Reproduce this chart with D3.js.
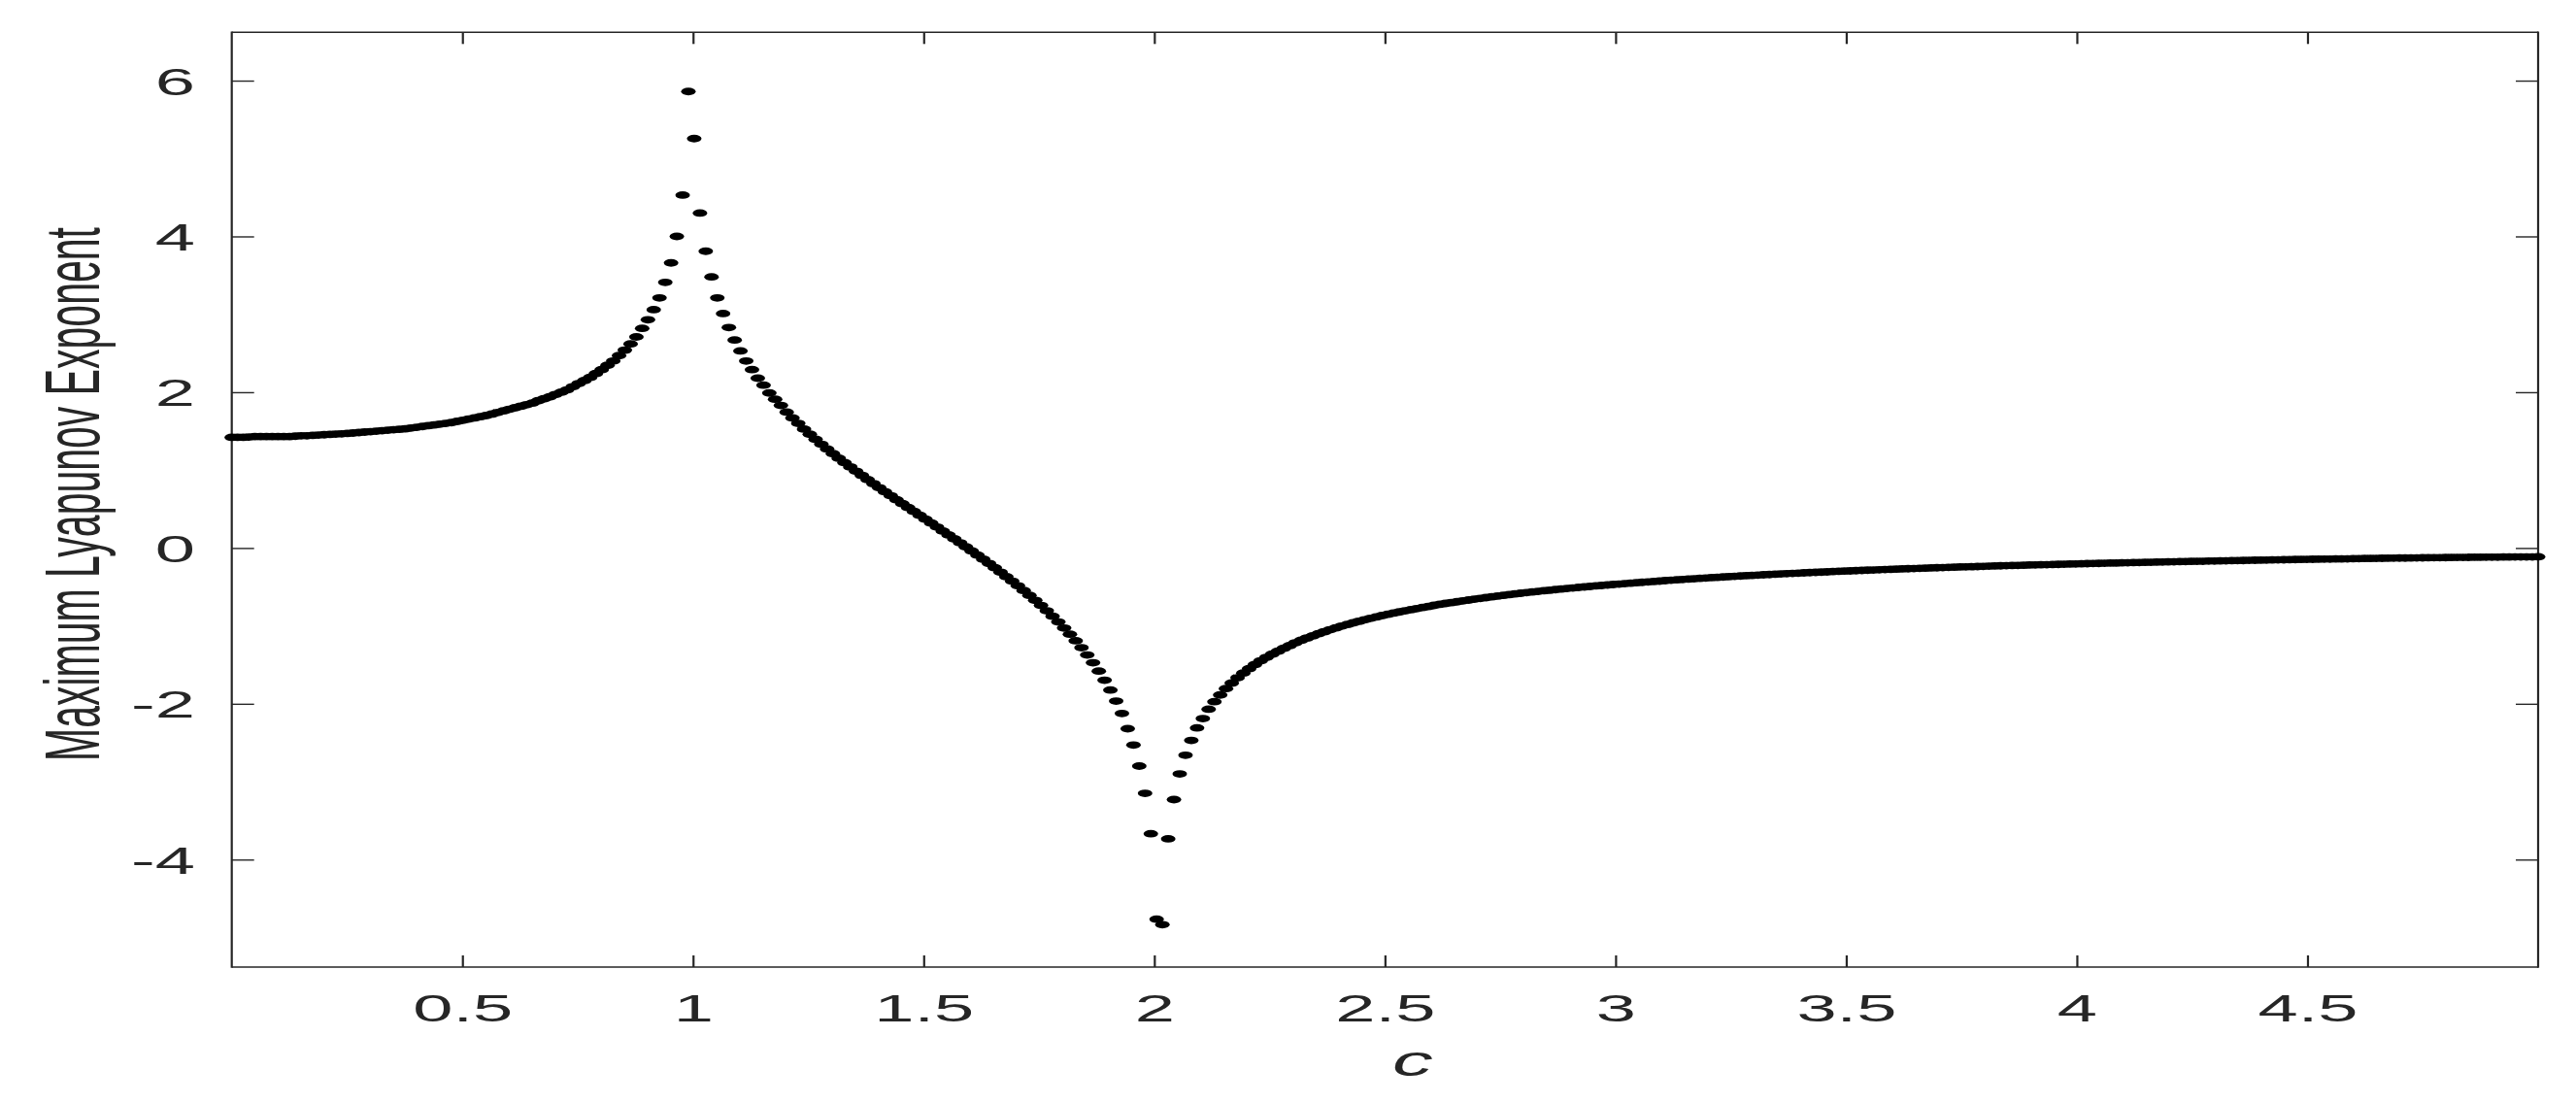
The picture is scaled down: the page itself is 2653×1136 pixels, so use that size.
<!DOCTYPE html>
<html><head><meta charset="utf-8">
<script src="https://cdn.jsdelivr.net/npm/d3@7"></script>
<style>html,body{margin:0;padding:0;background:#fff;} svg{display:block;}</style>
</head><body>
<svg id="chart" width="2653" height="1136"></svg>
<script>
// parameter grid: c = linspace(0, 5, 400)
const cStart = 0, cEnd = 5, nPoints = 400;
// maximum Lyapunov exponent, one value per c
const lyapunov = [
1.42,1.42,1.42,1.425,1.43,1.43,1.43,1.43,1.43,1.43,
1.43,1.435,1.44,1.44,1.445,1.45,1.454,1.458,1.462,1.466,
1.47,1.476,1.482,1.488,1.494,1.5,1.506,1.512,1.518,1.524,
1.53,1.54,1.55,1.56,1.57,1.58,1.59,1.6,1.61,1.625,
1.64,1.655,1.67,1.685,1.7,1.72,1.74,1.76,1.78,1.8,
1.82,1.84,1.86,1.89,1.915,1.94,1.97,2,2.03,2.07,
2.11,2.15,2.19,2.24,2.29,2.345,2.4,2.47,2.54,2.62,
2.71,2.82,2.93,3.06,3.21,3.41,3.66,4,4.53,5.86,
5.256,4.3,3.81,3.48,3.21,3.01,2.83,2.67,2.53,2.4,
2.29,2.18,2.09,1.99,1.91,1.83,1.745,1.67,1.6,1.526,
1.46,1.395,1.332,1.271,1.211,1.153,1.096,1.041,0.986,0.932,
0.878,0.826,0.774,0.722,0.671,0.62,0.57,0.52,0.47,0.42,
0.37,0.32,0.269,0.218,0.168,0.117,0.066,0.014,-0.038,-0.091,
-0.145,-0.199,-0.254,-0.311,-0.368,-0.426,-0.485,-0.546,-0.608,-0.672,
-0.738,-0.806,-0.876,-0.95,-1.027,-1.107,-1.191,-1.28,-1.373,-1.473,
-1.58,-1.697,-1.824,-1.965,-2.124,-2.32,-2.53,-2.8,-3.15,-3.668,
-4.765,-4.835,-3.734,-3.23,-2.9,-2.66,-2.47,-2.31,-2.19,-2.07,
-1.973,-1.887,-1.805,-1.733,-1.666,-1.605,-1.549,-1.497,-1.448,-1.404,
-1.363,-1.325,-1.288,-1.253,-1.218,-1.185,-1.156,-1.128,-1.101,-1.075,
-1.049,-1.026,-1.003,-0.982,-0.961,-0.941,-0.922,-0.903,-0.885,-0.868,
-0.851,-0.836,-0.821,-0.806,-0.792,-0.778,-0.764,-0.751,-0.737,-0.724,
-0.712,-0.701,-0.69,-0.679,-0.668,-0.657,-0.647,-0.637,-0.627,-0.617,
-0.608,-0.599,-0.59,-0.581,-0.573,-0.565,-0.557,-0.549,-0.542,-0.534,
-0.527,-0.52,-0.513,-0.506,-0.5,-0.494,-0.487,-0.481,-0.475,-0.469,
-0.463,-0.457,-0.452,-0.446,-0.441,-0.435,-0.43,-0.425,-0.419,-0.414,
-0.409,-0.404,-0.399,-0.395,-0.39,-0.386,-0.381,-0.377,-0.372,-0.368,
-0.364,-0.36,-0.356,-0.352,-0.348,-0.344,-0.341,-0.337,-0.333,-0.33,
-0.326,-0.323,-0.319,-0.316,-0.313,-0.31,-0.307,-0.303,-0.3,-0.297,
-0.294,-0.291,-0.288,-0.285,-0.283,-0.28,-0.277,-0.274,-0.271,-0.269,
-0.266,-0.264,-0.261,-0.259,-0.256,-0.254,-0.251,-0.249,-0.247,-0.244,
-0.242,-0.24,-0.238,-0.236,-0.233,-0.231,-0.229,-0.227,-0.225,-0.223,
-0.221,-0.219,-0.217,-0.215,-0.214,-0.212,-0.21,-0.208,-0.206,-0.205,
-0.203,-0.201,-0.199,-0.198,-0.196,-0.194,-0.193,-0.191,-0.189,-0.188,
-0.186,-0.184,-0.183,-0.181,-0.18,-0.178,-0.177,-0.175,-0.174,-0.172,
-0.171,-0.17,-0.168,-0.167,-0.165,-0.164,-0.163,-0.161,-0.16,-0.158,
-0.157,-0.156,-0.155,-0.153,-0.152,-0.151,-0.15,-0.148,-0.147,-0.146,
-0.145,-0.144,-0.143,-0.142,-0.141,-0.14,-0.139,-0.137,-0.136,-0.135,
-0.134,-0.133,-0.132,-0.131,-0.13,-0.129,-0.129,-0.128,-0.127,-0.126,
-0.125,-0.124,-0.124,-0.123,-0.122,-0.121,-0.121,-0.12,-0.119,-0.119,
-0.118,-0.117,-0.117,-0.116,-0.116,-0.115,-0.115,-0.114,-0.114,-0.113
];
const xTicks = [0.5, 1, 1.5, 2, 2.5, 3, 3.5, 4, 4.5];
const xTickLabels = ["0.5", "1", "1.5", "2", "2.5", "3", "3.5", "4", "4.5"];
const yTicks = [-4, -2, 0, 2, 4, 6];
const yTickLabels = ["-4", "-2", "0", "2", "4", "6"];
const xDomain = [0, 5];
const yDomain = [-5.38, 6.62];
const xLabel = "c";
const yLabel = "Maximum Lyapunov Exponent";

const cValues = d3.range(nPoints).map(i => cStart + (cEnd - cStart) * i / (nPoints - 1));

const AX = "#262626";
const SX = 1.9; // horizontal stretch of the original figure
const plot = {left: 238.7, right: 2614, top: 33.3, bottom: 996};
const svg = d3.select("#chart");
svg.append("rect").attr("width", 2653).attr("height", 1136).attr("fill", "#fff");

const x = d3.scaleLinear().domain(xDomain).range([plot.left, plot.right]);
const y = d3.scaleLinear().domain(yDomain).range([plot.bottom, plot.top]);

// axes
const font = "'Liberation Sans', Arial, Helvetica, sans-serif";
function styleAxis(g) {
  g.select(".domain").remove();
  g.selectAll(".tick line").attr("stroke", AX);
}
const gB = svg.append("g").attr("transform", `translate(0,${plot.bottom})`)
  .call(d3.axisBottom(x).tickValues(xTicks).tickSizeInner(-12).tickSizeOuter(0)
    .tickFormat((d, i) => xTickLabels[i]));
styleAxis(gB);
gB.selectAll(".tick line").attr("stroke-width", 2.2);
gB.selectAll(".tick text").attr("y", null).attr("dy", null)
  .attr("transform", `translate(0,56) scale(${SX},1)`)
  .attr("fill", AX).attr("font-family", font).attr("font-size", 39).attr("text-anchor", "middle");

const gT = svg.append("g").attr("transform", `translate(0,${plot.top})`)
  .call(d3.axisTop(x).tickValues(xTicks).tickSizeInner(-12).tickSizeOuter(0).tickFormat(""));
styleAxis(gT);
gT.selectAll(".tick line").attr("stroke-width", 2.2);

const gL = svg.append("g").attr("transform", `translate(${plot.left},0)`)
  .call(d3.axisLeft(y).tickValues(yTicks).tickSizeInner(-23).tickSizeOuter(0)
    .tickFormat((d, i) => yTickLabels[i]));
styleAxis(gL);
gL.selectAll(".tick line").attr("stroke-width", 1.4);
gL.selectAll(".tick text").attr("x", null).attr("dy", null)
  .attr("transform", `translate(${201 - plot.left},14) scale(${SX},1)`)
  .attr("fill", AX).attr("font-family", font).attr("font-size", 39).attr("text-anchor", "end");

const gR = svg.append("g").attr("transform", `translate(${plot.right},0)`)
  .call(d3.axisRight(y).tickValues(yTicks).tickSizeInner(-23).tickSizeOuter(0).tickFormat(""));
styleAxis(gR);
gR.selectAll(".tick line").attr("stroke-width", 1.4);

// box
const box = svg.append("g").attr("stroke", AX).attr("fill", "none");
box.append("line").attr("x1", plot.left).attr("x2", plot.right).attr("y1", plot.top).attr("y2", plot.top).attr("stroke-width", 1.4);
box.append("line").attr("x1", plot.left).attr("x2", plot.right).attr("y1", plot.bottom).attr("y2", plot.bottom).attr("stroke-width", 1.4);
box.append("line").attr("x1", plot.left).attr("x2", plot.left).attr("y1", plot.top - 0.7).attr("y2", plot.bottom + 0.7).attr("stroke-width", 2.2);
box.append("line").attr("x1", plot.right).attr("x2", plot.right).attr("y1", plot.top - 0.7).attr("y2", plot.bottom + 0.7).attr("stroke-width", 2.2);

// points
svg.append("g").selectAll("ellipse").data(lyapunov).join("ellipse")
  .attr("cx", (d, i) => x(cValues[i]))
  .attr("cy", d => y(d))
  .attr("rx", 7.5).attr("ry", 3.9)
  .attr("fill", "#000");

// labels
svg.append("text").attr("transform", `translate(1455,1108) scale(${SX},1)`)
  .attr("text-anchor", "middle").attr("font-family", font).attr("font-size", 44)
  .attr("font-style", "italic").attr("fill", AX).text(xLabel);
svg.append("text").attr("transform", `translate(102,509) scale(1.94,1) rotate(-90)`)
  .attr("text-anchor", "middle").attr("font-family", font).attr("font-size", 41)
  .attr("fill", AX).text(yLabel);
</script>
</body></html>
